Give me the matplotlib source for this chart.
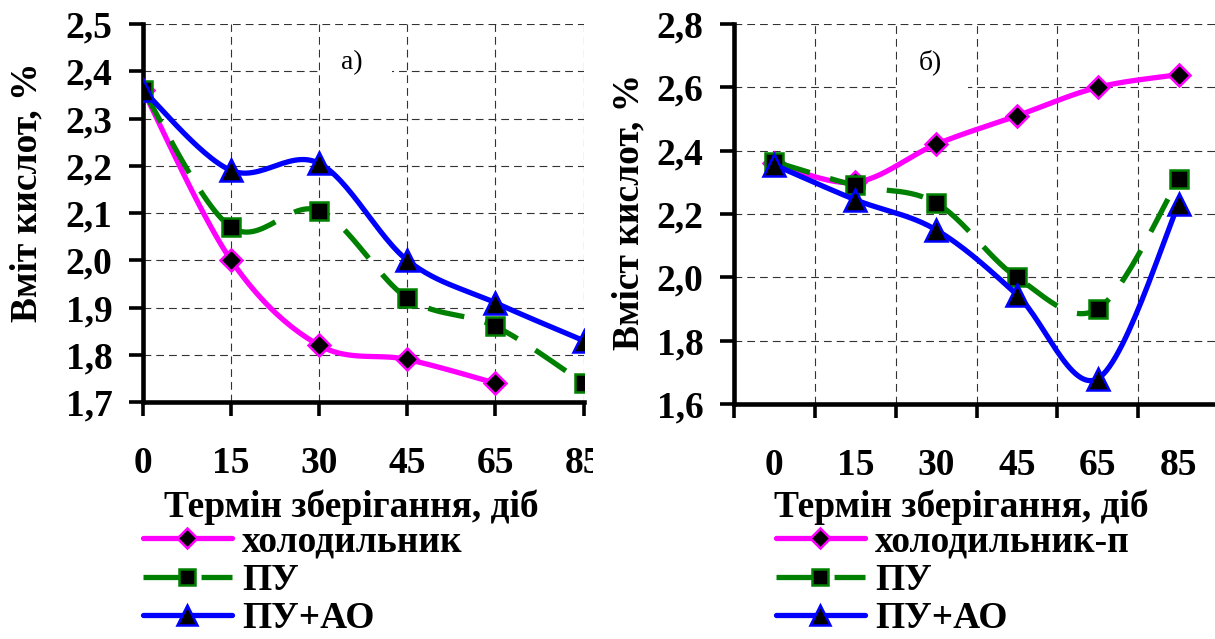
import numpy as np
import matplotlib
matplotlib.use("Agg")
import matplotlib.pyplot as plt
from matplotlib.lines import Line2D
from matplotlib.patches import Rectangle
from matplotlib.transforms import Bbox, TransformedBbox

# ---------------- data ----------------
x_labels = ['0', '15', '30', '45', '65', '85']

a_fridge = [2.36, 2.00, 1.82, 1.79, 1.74]
a_pu = [2.36, 2.07, 2.105, 1.92, 1.86, 1.74]
a_puao = [2.36, 2.19, 2.205, 2.00, 1.91, 1.83]

b_fridge = [2.36, 2.30, 2.42, 2.51, 2.60, 2.64]
b_pu = [2.365, 2.29, 2.235, 2.00, 1.90, 2.31]
b_puao = [2.355, 2.245, 2.15, 1.945, 1.68, 2.23]

a_yticks = [1.7, 1.8, 1.9, 2.0, 2.1, 2.2, 2.3, 2.4, 2.5]
b_yticks = [1.6, 1.8, 2.0, 2.2, 2.4, 2.6, 2.8]

names_a = ['холодильник', 'ПУ', 'ПУ+АО']
names_b = ['холодильник-п', 'ПУ', 'ПУ+АО']
ylabel_a = 'Вміт кислот, %'
ylabel_b = 'Вміст кислот, %'
xlabel = 'Термін зберігання, діб'

# ---------------- style ----------------
W, H = 1215, 639
FONT = 'Liberation Serif'
FS = 27
fig = plt.figure(figsize=(W / 100, H / 100), dpi=100)
fig.patch.set_facecolor('white')


def px(x0, y0, x1, y1):
    return [x0 / W, 1 - y1 / H, (x1 - x0) / W, (y1 - y0) / H]


def smooth(x, y, n=30):
    P = np.column_stack([np.asarray(x, float), np.asarray(y, float)])
    out = []
    t = np.linspace(0, 1, n)[:, None]
    for i in range(len(P) - 1):
        p0 = P[i - 1] if i > 0 else P[i]
        p1, p2 = P[i], P[i + 1]
        p3 = P[i + 2] if i + 2 < len(P) else P[i + 1]
        c1 = p1 + (p2 - p0) / 6
        c2 = p2 - (p3 - p1) / 6
        seg = (1 - t) ** 3 * p1 + 3 * (1 - t) ** 2 * t * c1 + 3 * (1 - t) * t ** 2 * c2 + t ** 3 * p2
        out.append(seg if i == 0 else seg[1:])
    return np.vstack(out)


styles = [
    dict(color='#ff00ff', ls='-', marker='D', ms=11, mew=1.8),
    dict(color='#008000', ls=(0, (7.0, 4.0)), marker='s', ms=13.5, mew=1.8),
    dict(color='#0000ff', ls='-', marker='^', ms=16, mew=1.8),
]
LW = 3.8


def draw_series(ax, xs, ys, st, z):
    c = smooth(xs, ys)
    ax.plot(c[:, 0], c[:, 1], color=st['color'], ls=st['ls'], lw=LW, zorder=z,
            solid_capstyle='butt', dash_capstyle='butt')
    ax.plot(xs, ys, ls='none', marker=st['marker'], ms=st['ms'], mfc='black',
            mec=st['color'], mew=st['mew'], zorder=z + 0.5)


def handle(st):
    return Line2D([], [], color=st['color'], ls=st['ls'], lw=LW, marker=st['marker'],
                  ms=st['ms'] * 0.9, mfc='black', mec=st['color'], mew=st['mew'],
                  solid_capstyle='round', dash_capstyle='butt')


def style_axes(ax):
    for s in ['top', 'right']:
        ax.spines[s].set_visible(False)
    for s in ['left', 'bottom']:
        ax.spines[s].set_linewidth(3.3)
        ax.spines[s].set_color('black')
    ax.set_axisbelow(True)
    ax.grid(True, which='major', color='#333333', lw=0.8, ls=(0, (7, 4.5)))
    ax.tick_params(which='major', direction='out', length=10, width=2.6, color='black')
    ax.tick_params(axis='y', pad=12)
    ax.tick_params(axis='x', pad=22)
    for lab in ax.get_xticklabels(which='both') + ax.get_yticklabels():
        lab.set_fontfamily(FONT)
        lab.set_fontweight('bold')
        lab.set_fontsize(FS)


# ---------------- panel a ----------------
axa = fig.add_axes(px(143, 24, 583.5, 402))
axa.set_xlim(0, 5)
axa.set_ylim(1.7, 2.5)
xa = np.arange(len(x_labels))
axa.set_xticks(xa)
axa.set_xticklabels(x_labels)
axa.set_yticks(a_yticks)
axa.set_yticklabels([f'{v:.1f}'.replace('.', ',') for v in a_yticks])
style_axes(axa)
draw_series(axa, xa[:len(a_fridge)], a_fridge, styles[0], 3)
draw_series(axa, xa, a_pu, styles[1], 4)
draw_series(axa, xa, a_puao, styles[2], 5)
axa.add_patch(Rectangle((0.402, 0.812), 0.164, 0.159, transform=axa.transAxes,
                        facecolor='white', edgecolor='none', zorder=1))
axa.text(0.475, 0.899, 'а)', transform=axa.transAxes, ha='center', va='center',
         fontfamily=FONT, fontsize=20, zorder=2)
clipbox = TransformedBbox(Bbox([[0, 0], [593 / W, 1]]), fig.transFigure)
for lab in axa.get_xticklabels():
    lab.set_clip_box(clipbox)
    lab.set_clip_on(True)

# ---------------- panel b ----------------
axb = fig.add_axes(px(734, 24, 1219, 404))
axb.set_xlim(0, 6)
axb.set_ylim(1.6, 2.8)
xb = np.arange(len(x_labels)) + 0.5
axb.set_xticks(np.arange(len(x_labels) + 1))
axb.set_xticklabels([])
axb.set_xticks(xb, minor=True)
axb.set_xticklabels(x_labels, minor=True)
axb.set_yticks(b_yticks)
axb.set_yticklabels([f'{v:.1f}'.replace('.', ',') for v in b_yticks])
style_axes(axb)
axb.tick_params(axis='x', which='minor', length=0, pad=32)
draw_series(axb, xb, b_fridge, styles[0], 3)
draw_series(axb, xb, b_pu, styles[1], 4)
draw_series(axb, xb, b_puao, styles[2], 5)
axb.add_patch(Rectangle((0.336, 0.774), 0.146, 0.197, transform=axb.transAxes,
                        facecolor='white', edgecolor='none', zorder=1))
axb.text(0.404, 0.9, 'б)', transform=axb.transAxes, ha='center', va='center',
         fontfamily=FONT, fontsize=20, zorder=2)

# ---------------- labels ----------------
tkw = dict(fontfamily=FONT, fontweight='bold', fontsize=FS)
fig.text(27 / W, 1 - 192 / H, ylabel_a, rotation=90, ha='center', va='center', **tkw)
fig.text(629 / W, 1 - 212 / H, ylabel_b, rotation=90, ha='center', va='center', **tkw)
fig.text(351 / W, 1 - 507 / H, xlabel, ha='center', va='center', **tkw)
fig.text(961 / W, 1 - 507 / H, xlabel, ha='center', va='center', **tkw)

hs = [handle(s) for s in styles]
lkw = dict(loc='upper left', frameon=False, borderpad=0, borderaxespad=0,
           handlelength=2.37, handletextpad=0.27, labelspacing=0.1,
           prop=dict(family=FONT, weight='bold', size=FS))
fig.legend(hs, names_a, bbox_to_anchor=(143 / W, 1 - 524 / H), **lkw)
fig.legend(hs, names_b, bbox_to_anchor=(776 / W, 1 - 524 / H), **lkw)

fig.savefig('out.png', dpi=100, facecolor='white')
